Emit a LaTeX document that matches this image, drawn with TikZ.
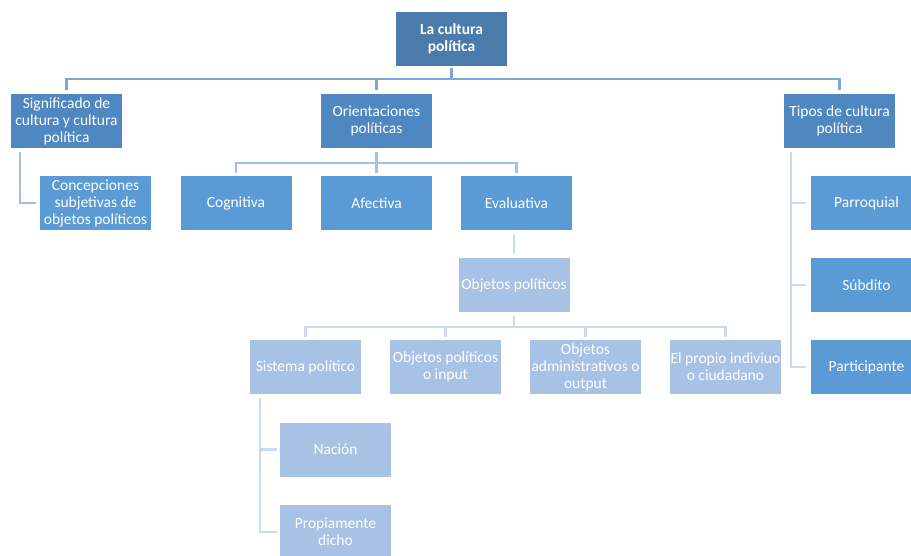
\documentclass[tikz,border=0pt]{standalone}
\usepackage{fontspec}
\setmainfont{Carlito}
\definecolor{rootblue}{HTML}{4A7BAB}
\definecolor{midblue}{HTML}{4F87C1}
\definecolor{boxblue}{HTML}{5B9BD5}
\definecolor{paleblue}{HTML}{A7C2E4}
\definecolor{lineA}{HTML}{7BA7D8}
\definecolor{lineB}{HTML}{A2C0E4}
\definecolor{lineC}{HTML}{C9DAEE}
\tikzset{
        box/.style={text=white, rectangle, inner ysep=0pt, inner xsep=-4pt, minimum width=111pt,
          minimum height=54pt, align=center, font=\fontsize{15.5}{17}\selectfont},
        top/.style={box, fill=rootblue, font=\fontsize{15.5}{17}\selectfont\bfseries},
        first/.style={box, fill=midblue},
        second/.style={box, fill=boxblue},
        third/.style={box, fill=paleblue},
        link1/.style={draw=lineA, line width=2.6pt},
        link2/.style={draw=lineB, line width=2.6pt},
        link3/.style={draw=lineC, line width=2.6pt}
          }
\begin{document}
\begin{tikzpicture}[x=1pt, y=-1pt]
        \useasboundingbox (0,0) rectangle (911,555);
        \clip (0,0) rectangle (911,555);
        \node[top] (root) at (451.5,38.5) {La cultura\\política};
        \node[first] (sig) at (66.5,121) {Significado de\\cultura y cultura\\política};
        \node[first] (ori) at (376.5,121) {Orientaciones\\políticas};
        \node[first] (tip) at (839.5,121) {Tipos de cultura\\política};
        \node[second] (conc) at (95.5,203) {Concepciones\\subjetivas de\\objetos políticos};
        \node[second] (cog) at (236,203) {Cognitiva};
        \node[second] (afe) at (376.5,203) {Afectiva};
        \node[second] (eva) at (516.5,203) {Evaluativa};
        \node[second] (par) at (866.5,203) {Parroquial};
        \node[second] (sub) at (866.5,285) {Súbdito};
        \node[second] (pti) at (866.5,367) {Participante};
        \node[third] (obj) at (514,285) {Objetos políticos};
        \node[third] (sis) at (305.5,367) {Sistema político};
        \node[third] (inp) at (445.5,367) {Objetos políticos\\o input};
        \node[third] (adm) at (585.5,367) {Objetos\\administrativos o\\output};
        \node[third] (ind) at (725.5,367) {El propio indiviuo\\o ciudadano};
        \node[third] (nac) at (335.5,449.5) {Nación};
        \node[third] (pro) at (335.5,532) {Propiamente\\dicho};
        \coordinate (bus0) at (451.5,79);
        \coordinate (bus1) at (376.5,163);
        \coordinate (bus2) at (514,327);
        \draw[link1, shorten <=2pt] (root.south) -- (bus0);
        \foreach \n in {sig,ori,tip}
          \draw[link1, shorten >=4pt] (bus0) -| (\n.north);
        \draw[link2, shorten <=4pt] (ori.south) -- (bus1);
        \foreach \n in {cog,afe,eva}
          \draw[link2, shorten >=3pt] (bus1) -| (\n.north);
        \draw[link2] ([xshift=9pt,yshift=-4pt]sig.south west) |- ([xshift=-4pt]conc.west);
        \foreach \n in {par,sub,pti}
          \draw[link3] ([xshift=7pt,yshift=-4pt]tip.south west) |- ([xshift=-5pt]\n.west);
        \draw[link3, shorten <=4pt, shorten >=4pt] (eva.south -| obj.north) -- (obj.north);
        \draw[link3, shorten <=4pt] (obj.south) -- (bus2);
        \foreach \n in {sis,inp,adm,ind}
          \draw[link3, shorten >=3pt] (bus2) -| (\n.north);
        \foreach \n in {nac,pro}
          \draw[link3] ([xshift=10pt,yshift=-4pt]sis.south west) |- ([xshift=-3pt]\n.west);
\end{tikzpicture}
\end{document}
